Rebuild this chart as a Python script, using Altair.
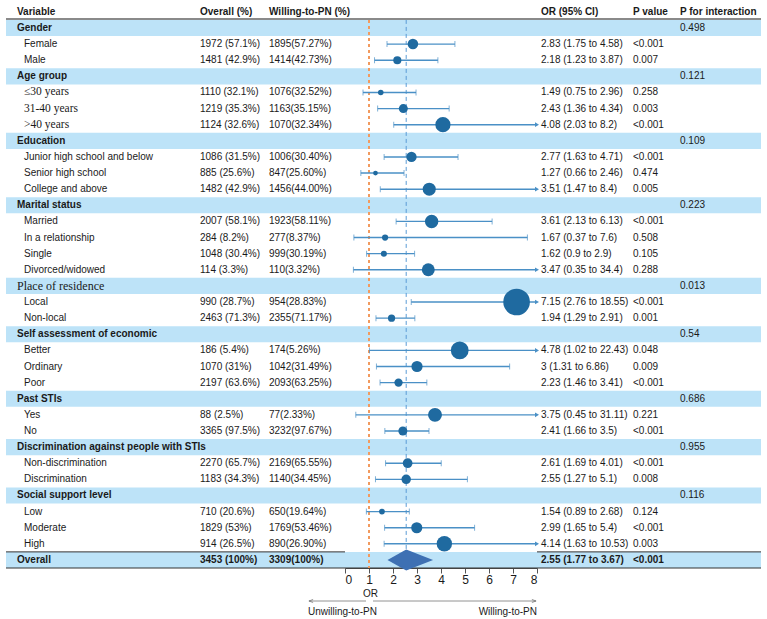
import altair as alt
import pandas as pd

# ---------------- data ----------------
groups = ["Gender", "Age group", "Education", "Marital status", "Place of residence",
          "Self assessment of economic", "Past STIs",
          "Discrimination against people with STIs", "Social support level"]
p_interaction = ["0.498", "0.121", "0.109", "0.223", "0.013", "0.54", "0.686", "0.955", "0.116"]
group_sizes = [2, 3, 3, 4, 2, 3, 2, 2, 3]

items = ["Female", "Male",
         "≤30 years", "31-40 years", ">40 years",
         "Junior high school and below", "Senior high school", "College and above",
         "Married", "In a relationship", "Single", "Divorced/widowed",
         "Local", "Non-local",
         "Better", "Ordinary", "Poor",
         "Yes", "No",
         "Non-discrimination", "Discrimination",
         "Low", "Moderate", "High"]
overall_n = ["1972 (57.1%)", "1481 (42.9%)",
             "1110 (32.1%)", "1219 (35.3%)", "1124 (32.6%)",
             "1086 (31.5%)", "885 (25.6%)", "1482 (42.9%)",
             "2007 (58.1%)", "284 (8.2%)", "1048 (30.4%)", "114 (3.3%)",
             "990 (28.7%)", "2463 (71.3%)",
             "186 (5.4%)", "1070 (31%)", "2197 (63.6%)",
             "88 (2.5%)", "3365 (97.5%)",
             "2270 (65.7%)", "1183 (34.3%)",
             "710 (20.6%)", "1829 (53%)", "914 (26.5%)"]
willing_n = ["1895(57.27%)", "1414(42.73%)",
             "1076(32.52%)", "1163(35.15%)", "1070(32.34%)",
             "1006(30.40%)", "847(25.60%)", "1456(44.00%)",
             "1923(58.11%)", "277(8.37%)", "999(30.19%)", "110(3.32%)",
             "954(28.83%)", "2355(71.17%)",
             "174(5.26%)", "1042(31.49%)", "2093(63.25%)",
             "77(2.33%)", "3232(97.67%)",
             "2169(65.55%)", "1140(34.45%)",
             "650(19.64%)", "1769(53.46%)", "890(26.90%)"]
or_val = [2.83, 2.18, 1.49, 2.43, 4.08, 2.77, 1.27, 3.51, 3.61, 1.67, 1.62, 3.47,
          7.15, 1.94, 4.78, 3, 2.23, 3.75, 2.41, 2.61, 2.55, 1.54, 2.99, 4.14]
ci_low = [1.75, 1.23, 0.75, 1.36, 2.03, 1.63, 0.66, 1.47, 2.13, 0.37, 0.9, 0.35,
          2.76, 1.29, 1.02, 1.31, 1.46, 0.45, 1.66, 1.69, 1.27, 0.89, 1.65, 1.63]
ci_high = [4.58, 3.87, 2.96, 4.34, 8.2, 4.71, 2.46, 8.4, 6.13, 7.6, 2.9, 34.4,
           18.55, 2.91, 22.43, 6.86, 3.41, 31.11, 3.5, 4.01, 5.1, 2.68, 5.4, 10.53]
p_value = ["<0.001", "0.007", "0.258", "0.003", "<0.001", "<0.001", "0.474", "0.005",
           "<0.001", "0.508", "0.105", "0.288", "<0.001", "0.001", "0.048", "0.009",
           "<0.001", "0.221", "<0.001", "<0.001", "0.008", "0.124", "<0.001", "0.003"]

overall_label = "Overall"
overall_total = "3453 (100%)"
overall_willing = "3309(100%)"
overall_or, overall_lo, overall_hi = 2.55, 1.77, 3.67
overall_p = "<0.001"

x_max = 8
serif_labels = {"≤30 years", "31-40 years", ">40 years"}
serif_groups = {"Place of residence"}

# ---------------- table ----------------
def fmt(v):
    return f"{v:g}"

rows = []
idx = 1
k = 0
for g, pint, n in zip(groups, p_interaction, group_sizes):
    rows.append(dict(idx=idx, label=g, kind="group", pint=pint))
    idx += 1
    for _ in range(n):
        rows.append(dict(idx=idx, label=items[k], kind="item", n_all=overall_n[k],
                         n_will=willing_n[k], orv=or_val[k], lo=ci_low[k], hi=ci_high[k],
                         hi_clip=min(ci_high[k], x_max), arrow=ci_high[k] > x_max,
                         or_txt=f"{fmt(or_val[k])} ({fmt(ci_low[k])} to {fmt(ci_high[k])})",
                         p=p_value[k]))
        idx += 1
        k += 1
rows.append(dict(idx=idx, label=overall_label, kind="overall", n_all=overall_total,
                 n_will=overall_willing, orv=overall_or, lo=overall_lo, hi=overall_hi,
                 or_txt=f"{fmt(overall_or)} ({fmt(overall_lo)} to {fmt(overall_hi)})",
                 p=overall_p))
overall_idx = idx
df = pd.DataFrame(rows)
df["serif"] = df["label"].isin(serif_labels | serif_groups)
df["y0"] = df["idx"] - 0.5
df["y1"] = df["idx"] + 0.5
df["arrow"] = df["arrow"].fillna(False).astype(bool)

items_df = df[df["kind"] == "item"].copy()

diamond = pd.DataFrame({
    "x": [overall_lo, overall_or, overall_hi],
    "ytop": [overall_idx, overall_idx - 0.65, overall_idx],
    "ybot": [overall_idx, overall_idx + 0.65, overall_idx],
})

one = pd.DataFrame({"a": [0]})

# ---------------- scales ----------------
ROW_PX = 16.12
H = 568
ys = alt.Scale(domain=[overall_idx + 0.5 - H / ROW_PX, overall_idx + 0.5], range=[0, H], nice=False, zero=False)
xs = alt.Scale(domain=[0, x_max], range=[345, 537], nice=False, zero=False)

SANS = "Liberation Sans, Arial"
SERIF = "Liberation Serif, Times New Roman"
TXT = "#1a1a1a"
FS = 10

xaxis = alt.Axis(values=list(range(0, x_max + 1)), format="d", title="OR",
                 labelFont=SANS, labelFontSize=12, labelColor=TXT, labelPadding=1,
                 tickColor="#555", domainColor="#555", tickSize=5, grid=False,
                 titleFont=SANS, titleFontSize=10, titleFontWeight="normal", titleColor=TXT,
                 titleX=370, titleY=20, titleAlign="center")

def X(field):
    return alt.X(field, type="quantitative", scale=xs, axis=xaxis, title="OR")

def Y(field):
    return alt.Y(field, type="quantitative", scale=ys, axis=None)

# bands
bands = alt.Chart(df).transform_filter("datum.kind != 'item'").mark_rect(color="#bde3f8").encode(
    x=alt.value(6), x2=alt.value(761), y=Y("y0"), y2="y1")

header_line = alt.Chart(one).mark_rule(color="#8a8a8a", strokeWidth=2).encode(
    x=alt.value(6), x2=alt.value(761), y=alt.YDatum(0.45, scale=ys, axis=None))
ov_top_l = alt.Chart(one).mark_rule(color="#333", strokeWidth=1).encode(
    x=alt.value(6), x2=alt.value(345), y=alt.YDatum(overall_idx - 0.5, scale=ys, axis=None))
ov_top_r = alt.Chart(one).mark_rule(color="#333", strokeWidth=1).encode(
    x=alt.value(537), x2=alt.value(761), y=alt.YDatum(overall_idx - 0.5, scale=ys, axis=None))
ov_bot = alt.Chart(one).mark_rule(color="#333", strokeWidth=1).encode(
    x=alt.value(6), x2=alt.value(761), y=alt.YDatum(overall_idx + 0.5, scale=ys, axis=None))

ref1 = alt.Chart(one).mark_rule(color="#f29a5e", strokeWidth=2, strokeDash=[3, 3]).encode(
    x=alt.XDatum(1, scale=xs, axis=xaxis, title="OR"),
    y=alt.YDatum(0.5, scale=ys, axis=None), y2=alt.Y2Datum(overall_idx + 0.5))
ref2 = alt.Chart(one).mark_rule(color="#5b9bd5", strokeWidth=1, strokeDash=[4, 3]).encode(
    x=alt.XDatum(overall_or, scale=xs, axis=xaxis, title="OR"),
    y=alt.YDatum(0.5, scale=ys, axis=None), y2=alt.Y2Datum(overall_idx + 0.5))

ci = alt.Chart(items_df).mark_rule(color="#4a90c6", strokeWidth=1.4).encode(
    x=X("lo"), x2="hi_clip", y=Y("idx"))
cap_lo = alt.Chart(items_df).mark_tick(color="#4a90c6", orient="vertical", size=6, thickness=1).encode(
    x=X("lo"), y=Y("idx"))
cap_hi = alt.Chart(items_df).transform_filter("!datum.arrow").mark_tick(
    color="#4a90c6", orient="vertical", size=6, thickness=1).encode(x=X("hi"), y=Y("idx"))
arrows = alt.Chart(items_df).transform_filter("datum.arrow").mark_point(
    shape="triangle-right", filled=True, color="#4a90c6", size=22, opacity=1).encode(
    x=X("hi_clip"), y=Y("idx"))
points = alt.Chart(items_df).mark_circle(color="#1f6aa0", opacity=1).encode(
    x=X("orv"), y=Y("idx"),
    size=alt.Size("orv:Q", scale=alt.Scale(type="pow", exponent=2, domain=[0, x_max], range=[0, 887]),
                  legend=None))
dia = alt.Chart(diamond).mark_area(color="#3e70b3", opacity=1).encode(
    x=X("x"), y=Y("ytop"), y2="ybot")

def text_layer(data, field, xpx, filt=None, font=SANS, size=FS, weight="normal", align="left"):
    c = alt.Chart(data)
    if filt:
        c = c.transform_filter(filt)
    return c.mark_text(align=align, baseline="middle", font=font, fontSize=size,
                       fontWeight=weight, color=TXT).encode(
        x=alt.value(xpx), y=Y("idx"), text=alt.Text(field, type="nominal"))

header_cols = ["Variable", "Overall (%)", "Willing-to-PN (%)", "OR (95% CI)", "P value", "P for interaction"]
header_x = [17, 200, 269, 541, 633, 680]
header_df = pd.DataFrame({"idx": [0] * len(header_cols), "t": header_cols})
header_texts = [alt.Chart(header_df[header_df["t"] == t]).mark_text(
    align="left", baseline="middle", font=SANS, fontSize=FS, fontWeight="bold", color=TXT).encode(
    x=alt.value(xp), y=Y("idx"), text="t:N") for t, xp in zip(header_cols, header_x)]

texts = [
    text_layer(df, "label", 17, "datum.kind == 'group' && !datum.serif", weight="bold"),
    text_layer(df, "label", 17, "datum.kind == 'group' && datum.serif", font=SERIF, size=12),
    text_layer(df, "label", 24, "datum.kind == 'item' && !datum.serif"),
    text_layer(df, "label", 24, "datum.kind == 'item' && datum.serif", font=SERIF, size=11.5),
    text_layer(df, "label", 17, "datum.kind == 'overall'", weight="bold"),
    text_layer(df, "n_all", 200, "datum.kind == 'item'"),
    text_layer(df, "n_will", 269, "datum.kind == 'item'"),
    text_layer(df, "or_txt", 541, "datum.kind == 'item'"),
    text_layer(df, "p", 633, "datum.kind == 'item'"),
    text_layer(df, "pint", 680, "datum.kind == 'group'"),
    text_layer(df, "n_all", 200, "datum.kind == 'overall'", weight="bold"),
    text_layer(df, "n_will", 269, "datum.kind == 'overall'", weight="bold"),
    text_layer(df, "or_txt", 541, "datum.kind == 'overall'", weight="bold"),
    text_layer(df, "p", 633, "datum.kind == 'overall'", weight="bold"),
]

# direction arrows below the axis
ARW = "#777"
dir_l = alt.Chart(one).mark_rule(color=ARW, strokeWidth=0.8).encode(
    x=alt.value(309), x2=alt.value(366), y=alt.value(601))
dir_r = alt.Chart(one).mark_rule(color=ARW, strokeWidth=0.8).encode(
    x=alt.value(373), x2=alt.value(536), y=alt.value(601))
head_l = alt.Chart(one).mark_point(shape="M1,-0.7L-1,0L1,0.7", filled=False, color=ARW, size=18,
                                   strokeWidth=0.8, opacity=1).encode(x=alt.value(311), y=alt.value(601))
head_r = alt.Chart(one).mark_point(shape="M-1,-0.7L1,0L-1,0.7", filled=False, color=ARW, size=18,
                                   strokeWidth=0.8, opacity=1).encode(x=alt.value(534), y=alt.value(601))
lab_l = alt.Chart(pd.DataFrame({"t": ["Unwilling-to-PN"]})).mark_text(
    align="left", baseline="middle", font=SANS, fontSize=FS, color=TXT).encode(
    x=alt.value(308), y=alt.value(612), text="t:N")
lab_r = alt.Chart(pd.DataFrame({"t": ["Willing-to-PN"]})).mark_text(
    align="right", baseline="middle", font=SANS, fontSize=FS, color=TXT).encode(
    x=alt.value(537), y=alt.value(612), text="t:N")

chart = alt.layer(
    bands, header_line, ov_top_l, ov_top_r, ov_bot, ref1, ref2,
    ci, cap_lo, cap_hi, arrows, points, dia,
    *texts, *header_texts,
    dir_l, dir_r, head_l, head_r, lab_l, lab_r,
).properties(
    width=767, height=H,
    autosize=alt.AutoSizeParams(type="none"),
    padding={"left": 0, "top": 0, "right": 0, "bottom": 619 - H},
    background="white",
).configure_view(stroke=None)

chart.save("out.html", embed_options={"renderer": "svg", "actions": False})
